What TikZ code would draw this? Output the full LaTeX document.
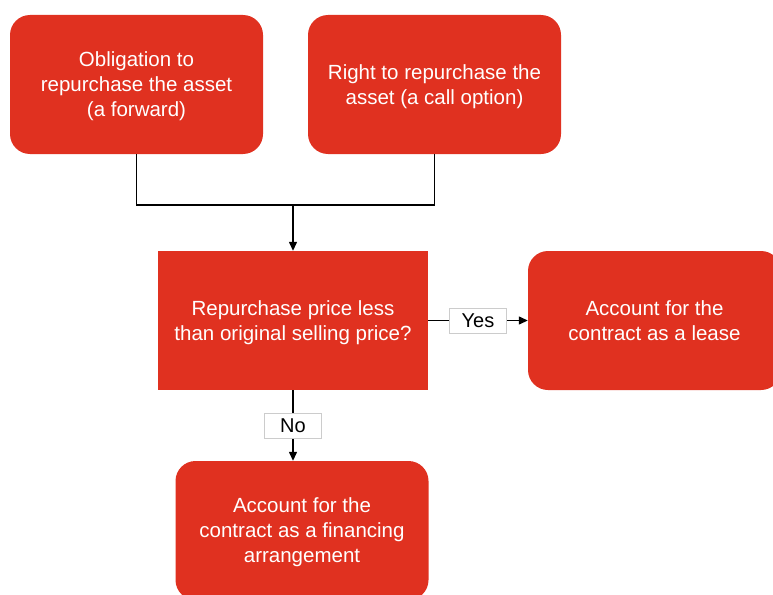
\documentclass[tikz,border=0pt]{standalone}
\usepackage{fontspec}
\setmainfont{Liberation Sans}
\usetikzlibrary{arrows.meta}
\definecolor{boxred}{RGB}{224,49,32}

\begin{document}
\begin{tikzpicture}[x=1pt, y=-1pt]
    % Styles
    \tikzstyle{choice} = [rectangle, rounded corners=20pt, fill=boxred, text=white, minimum width=253pt, minimum height=139pt, align=center, text depth=0pt, font=\fontsize{20.5}{25}\selectfont]
    \tikzstyle{question} = [choice, sharp corners, minimum width=270pt]
    \tikzstyle{arrow} = [-{Triangle[length=9pt,width=8pt]}, line width=1.3pt]
    \tikzstyle{answer} = [fill=white, draw=gray!40, line width=0.8pt, minimum width=57pt, minimum height=25pt, inner sep=0pt, font=\fontsize{20}{24}\selectfont]

    \useasboundingbox (0,0) rectangle (773,594);
    \clip (0,0) rectangle (773,594);

    % Nodes
    \node[choice] (forward) at (136.5,84.5) {Obligation to\\repurchase the asset\\(a forward)};
    \node[choice] (callopt) at (434.5,84.5) {Right to repurchase the\\asset (a call option)};
    \node[question] (price) at (293,320.5) {Repurchase price less\\than original selling price?};
    \node[choice] (lease) at (654.5,320.5) {Account for the\\contract as a lease};
    \node[choice] (finance) at (302,530.5) {Account for the\\contract as a financing\\arrangement};
    \coordinate (join) at (293,205);

    % Arrows
    \draw[line width=1.3pt] (forward.south) |- (join) -| (callopt.south);
    \draw[arrow] (join) -- (price.north);
    \draw[arrow] (price.east) -- node[answer] {Yes} (lease.west);
    \draw[arrow] (price.south) -- node[answer] {No} (price.south |- finance.north);
\end{tikzpicture}
\end{document}
